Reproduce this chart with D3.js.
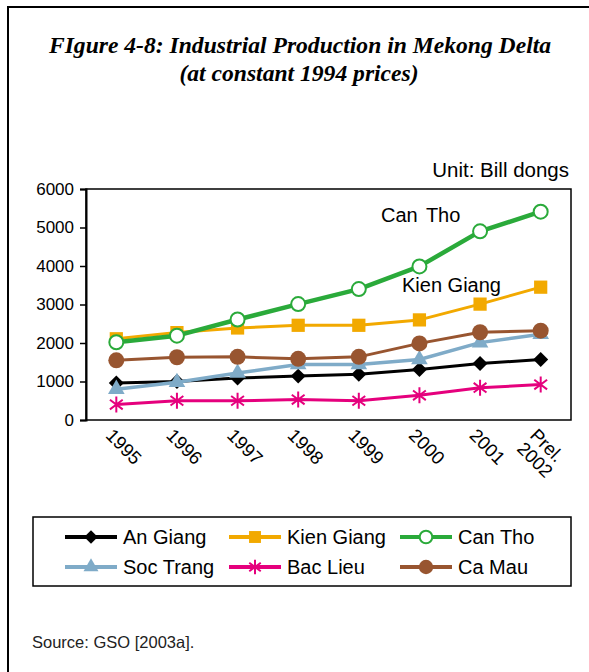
<!DOCTYPE html>
<html>
<head>
<meta charset="utf-8">
<script src="https://cdn.jsdelivr.net/npm/d3@7"></script>
<style>
  html, body { margin: 0; padding: 0; background: #fff; }
  svg { display: block; }
</style>
</head>
<body>
<svg id="chart" width="589" height="672"></svg>
<script>
// ---- data ----
const years = ["1995", "1996", "1997", "1998", "1999", "2000", "2001", "Prel.\n2002"];
const yTicks = [0, 1000, 2000, 3000, 4000, 5000, 6000];
const seriesNames = ["An Giang", "Kien Giang", "Can Tho", "Soc Trang", "Bac Lieu", "Ca Mau"];
const anGiang   = [960, 1000, 1090, 1140, 1190, 1310, 1470, 1570];
const kienGiang = [2110, 2270, 2390, 2460, 2460, 2600, 3010, 3450];
const canTho    = [2020, 2190, 2610, 3010, 3400, 3990, 4900, 5410];
const socTrang  = [800, 980, 1220, 1440, 1440, 1570, 2010, 2230];
const bacLieu   = [400, 500, 500, 530, 500, 640, 840, 920];
const caMau     = [1550, 1630, 1640, 1590, 1640, 1990, 2280, 2320];
const seriesValues = [anGiang, kienGiang, canTho, socTrang, bacLieu, caMau];

const styles = {
  "An Giang":   { color: "#000000", width: 3, marker: "diamond" },
  "Kien Giang": { color: "#F2A900", width: 3, marker: "square" },
  "Can Tho":    { color: "#2AAA3A", width: 4.5, marker: "opencircle" },
  "Soc Trang":  { color: "#7FABC8", width: 3.5, marker: "triangle" },
  "Bac Lieu":   { color: "#E5007D", width: 3, marker: "star" },
  "Ca Mau":     { color: "#985530", width: 3, marker: "circle" }
};

const svg = d3.select("#chart");
svg.append("rect").attr("width", 589).attr("height", 672).attr("fill", "#fff");

// outer frame
svg.append("rect").attr("x", 8).attr("y", 7).attr("width", 620).attr("height", 700)
  .attr("fill", "none").attr("stroke", "#000").attr("stroke-width", 2);

// title
const title = svg.append("text").attr("text-anchor", "middle")
  .attr("font-family", "'Liberation Serif', 'Times New Roman', serif")
  .attr("font-style", "italic").attr("font-weight", "bold")
  .attr("font-size", 23.6).attr("fill", "#000");
title.append("tspan").attr("x", 300).attr("y", 53).text("FIgure 4-8: Industrial Production in Mekong Delta");
title.append("tspan").attr("x", 299).attr("y", 81).text("(at constant 1994 prices)");

const sans = "'Liberation Sans', Arial, Helvetica, sans-serif";

// plot geometry
const pLeft = 86, pRight = 571, pTop = 189, pBottom = 420;
const x = d3.scalePoint().domain(years).range([pLeft, pRight]).padding(0.5);
const y = d3.scaleLinear().domain([0, 6000]).range([pBottom, pTop]);

// unit label
svg.append("text").attr("x", 569).attr("y", 177).attr("text-anchor", "end")
  .attr("font-family", sans).attr("font-size", 20.5).text("Unit: Bill dongs");

// plot box
svg.append("rect").attr("x", pLeft).attr("y", pTop).attr("width", pRight - pLeft).attr("height", pBottom - pTop)
  .attr("fill", "none").attr("stroke", "#000").attr("stroke-width", 1.5);

// y axis
const yAxis = svg.append("g").attr("transform", `translate(${pLeft},0)`)
  .call(d3.axisLeft(y).tickValues(yTicks).tickSize(6).tickPadding(6).tickFormat(d3.format("d")));
yAxis.select(".domain").attr("stroke-width", 2);
yAxis.selectAll(".tick line").attr("stroke-width", 1.5);
yAxis.selectAll(".tick text").attr("font-family", sans).attr("font-size", 17).attr("fill", "#000");

// x labels (rotated)
const xl = svg.append("g");
years.forEach(yr => {
  const lines = yr.split("\n");
  const t = xl.append("text")
    .attr("transform", `translate(${x(yr) - 7},${pBottom + 12}) rotate(45)`)
    .attr("font-family", sans).attr("font-size", 18.5).attr("fill", "#000");
  lines.forEach((ln, i) => {
    t.append("tspan").attr("x", 0).attr("dy", i === 0 ? "0.35em" : "1.0em").text(ln);
  });
});

// markers
function drawMarker(g, type, color, cx, cy, scale = 1) {
  const s = scale;
  if (type === "diamond") {
    g.append("path").attr("d", d3.symbol(d3.symbolSquare, 112 * s * s)())
      .attr("transform", `translate(${cx},${cy}) rotate(45)`).attr("fill", color);
  } else if (type === "square") {
    g.append("path").attr("d", d3.symbol(d3.symbolSquare, 175 * s * s)())
      .attr("transform", `translate(${cx},${cy})`).attr("fill", color);
  } else if (type === "opencircle") {
    g.append("circle").attr("cx", cx).attr("cy", cy).attr("r", 7 * s)
      .attr("fill", "#fff").attr("stroke", color).attr("stroke-width", 2);
  } else if (type === "circle") {
    g.append("circle").attr("cx", cx).attr("cy", cy).attr("r", 8 * s).attr("fill", color);
  } else if (type === "triangle") {
    g.append("path").attr("d", d3.symbol(d3.symbolTriangle, 120 * s * s)())
      .attr("transform", `translate(${cx},${cy})`).attr("fill", color);
  } else if (type === "star") {
    const r = 8 * s;
    const p = d3.path();
    p.moveTo(cx, cy - r); p.lineTo(cx, cy + r);
    p.moveTo(cx - r * 0.8, cy - r * 0.6); p.lineTo(cx + r * 0.8, cy + r * 0.6);
    p.moveTo(cx - r * 0.8, cy + r * 0.6); p.lineTo(cx + r * 0.8, cy - r * 0.6);
    g.append("path").attr("d", p.toString()).attr("stroke", color).attr("stroke-width", 2).attr("fill", "none");
  }
}

const line = d3.line().x((d, i) => x(years[i])).y(d => y(d));
const plot = svg.append("g");
seriesNames.forEach((name, si) => {
  const st = styles[name];
  const vals = seriesValues[si];
  const g = plot.append("g");
  g.append("path").attr("d", line(vals)).attr("fill", "none")
    .attr("stroke", st.color).attr("stroke-width", st.width).attr("stroke-linejoin", "round");
  vals.forEach((v, i) => drawMarker(g, st.marker, st.color, x(years[i]), y(v)));
});

// annotations
svg.append("text").attr("x", 381).attr("y", 222).attr("font-family", sans).attr("font-size", 20)
  .attr("word-spacing", 3).text("Can Tho");
svg.append("text").attr("x", 402).attr("y", 292).attr("font-family", sans).attr("font-size", 20)
  .text("Kien Giang");

// legend
svg.append("rect").attr("x", 33).attr("y", 517).attr("width", 538).attr("height", 69)
  .attr("fill", "#fff").attr("stroke", "#000").attr("stroke-width", 1.5);
const legPos = [[65, 537], [229, 537], [400, 537], [65, 567], [229, 567], [400, 567]];
seriesNames.forEach((name, i) => {
  const st = styles[name];
  const [lx, ly] = legPos[i];
  const g = svg.append("g");
  g.append("line").attr("x1", lx).attr("x2", lx + 52).attr("y1", ly).attr("y2", ly)
    .attr("stroke", st.color).attr("stroke-width", 4);
  drawMarker(g, st.marker, st.color, lx + 26, ly, 0.9);
  g.append("text").attr("x", lx + 58).attr("y", ly + 7).attr("font-family", sans)
    .attr("font-size", 20).text(name);
});

// source
svg.append("text").attr("x", 32).attr("y", 648).attr("font-family", sans).attr("font-size", 16.5)
  .attr("fill", "#222").text("Source: GSO [2003a].");
</script>
</body>
</html>
